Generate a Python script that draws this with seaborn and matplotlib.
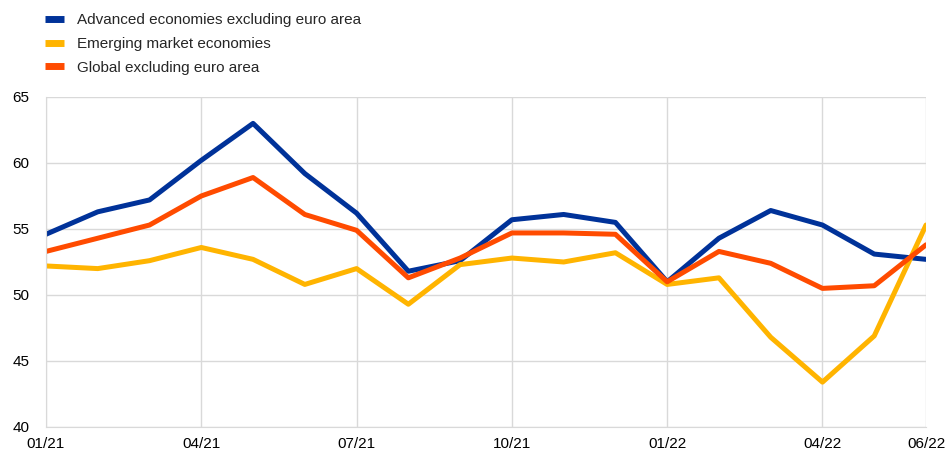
import pandas as pd
import seaborn as sns
import matplotlib.pyplot as plt

months = ["01/21", "02/21", "03/21", "04/21", "05/21", "06/21", "07/21", "08/21", "09/21",
          "10/21", "11/21", "12/21", "01/22", "02/22", "03/22", "04/22", "05/22", "06/22"]

advanced = [54.6, 56.3, 57.2, 60.2, 63.0, 59.2, 56.2, 51.8, 52.6,
            55.7, 56.1, 55.5, 51.0, 54.3, 56.4, 55.3, 53.1, 52.7]
emerging = [52.2, 52.0, 52.6, 53.6, 52.7, 50.8, 52.0, 49.3, 52.3,
            52.8, 52.5, 53.2, 50.8, 51.3, 46.8, 43.4, 46.9, 55.3]
global_ex = [53.3, 54.3, 55.3, 57.5, 58.9, 56.1, 54.9, 51.3, 52.8,
             54.7, 54.7, 54.6, 51.0, 53.3, 52.4, 50.5, 50.7, 53.8]

names = ["Advanced economies excluding euro area", "Emerging market economies", "Global excluding euro area"]
colors = ["#003299", "#ffb400", "#ff4b00"]

# long format for seaborn
df = pd.DataFrame({
    "month": list(range(len(months))) * 3,
    "value": advanced + emerging + global_ex,
    "series": [names[0]] * len(months) + [names[1]] * len(months) + [names[2]] * len(months),
})

sns.set_style("white")
plt.rcParams["font.family"] = ["Liberation Sans", "DejaVu Sans"]

fig = plt.figure(figsize=(9.52, 4.53), dpi=100)
ax = fig.add_axes([0.0483, 0.0574, 0.9244, 0.7285])

sns.lineplot(data=df, x="month", y="value", hue="series", hue_order=names,
             palette=colors, linewidth=3.6, ax=ax, legend=False)

tick_idx = [0, 3, 6, 9, 12, 15, 17]
ax.set_xticks(tick_idx)
ax.set_xticklabels([months[i] for i in tick_idx])
ax.set_xlim(0, 17)
ax.set_ylim(40, 65)
ax.set_yticks([40, 45, 50, 55, 60, 65])
ax.set_xlabel("")
ax.set_ylabel("")
ax.grid(True, color="#d9d9d9", linewidth=1)
for side in ["top", "right"]:
    ax.spines[side].set_visible(False)
for side in ["left", "bottom"]:
    ax.spines[side].set_color("#d9d9d9")
ax.tick_params(axis="both", length=0, labelsize=11, colors="#000000", pad=7)
ax.tick_params(axis="y", pad=12)

handles = [plt.Line2D([], [], color=c, linewidth=5, solid_capstyle="butt") for c in colors]
fig.legend(handles, names, loc="upper left", bbox_to_anchor=(0.036, 0.995),
           frameon=False, fontsize=11, handlelength=1.25, handletextpad=0.85,
           labelspacing=0.65, borderaxespad=0.3)

fig.savefig("out.png", dpi=100)
